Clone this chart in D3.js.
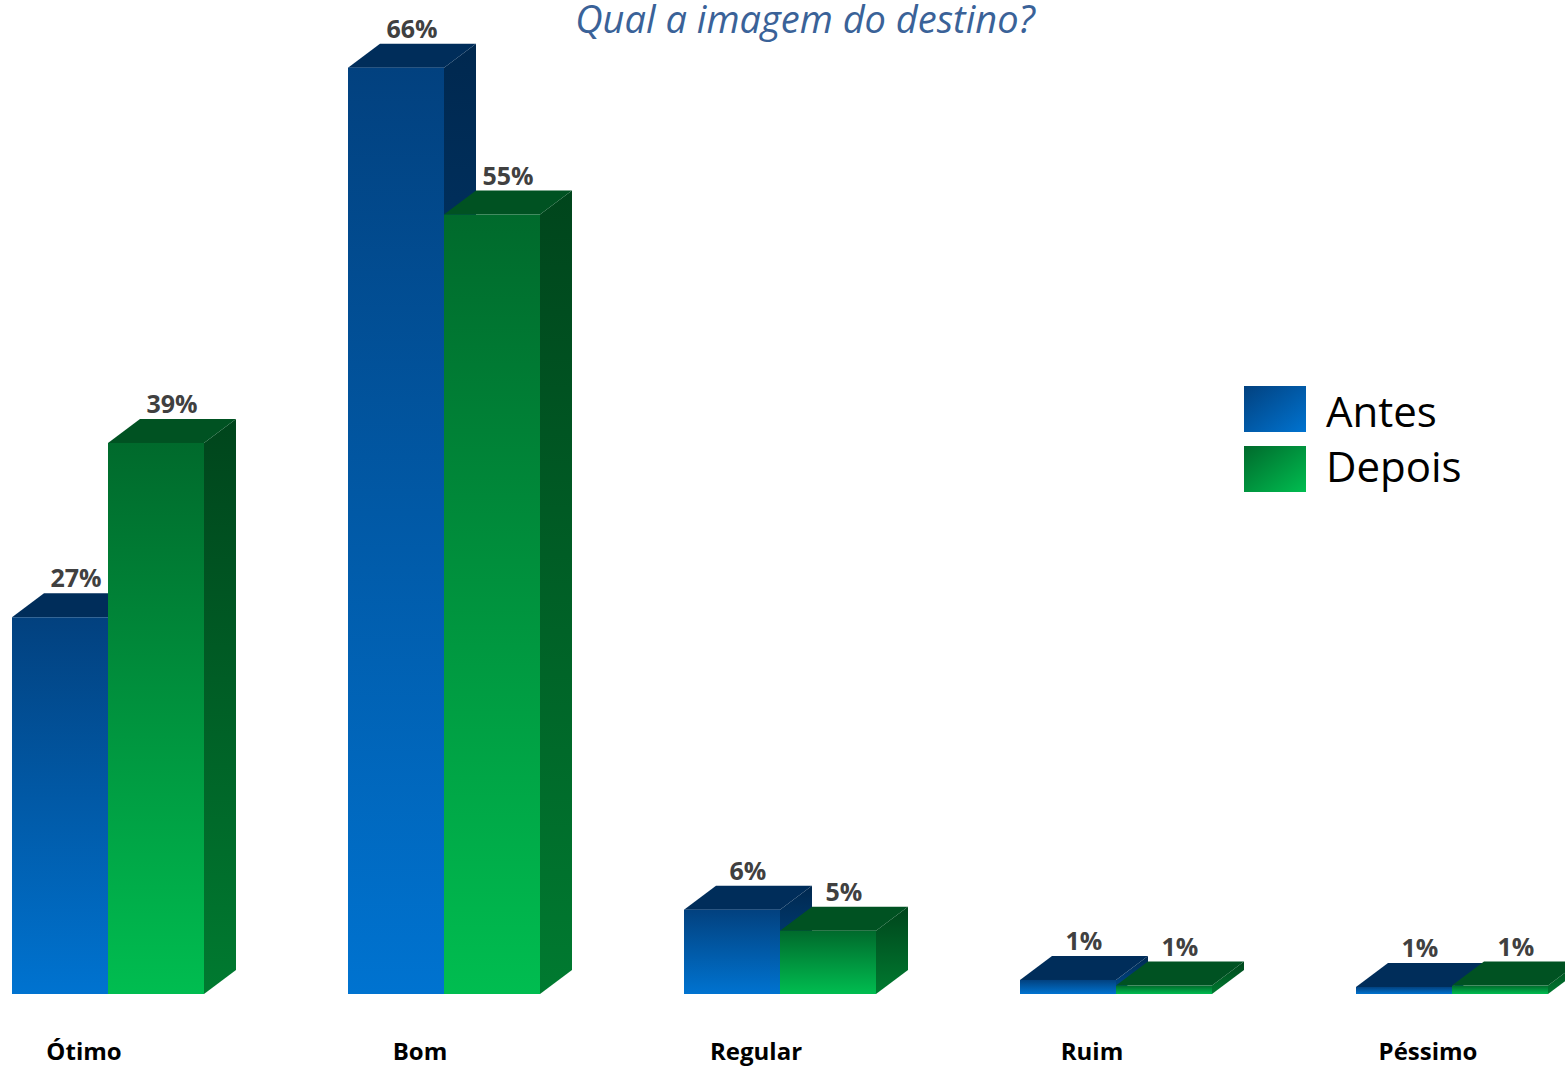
<!DOCTYPE html>
<html>
<head>
<meta charset="utf-8">
<script src="https://cdn.jsdelivr.net/npm/d3@7"></script>
<style>
  html, body { margin: 0; padding: 0; background: #fff; overflow: hidden; }
  svg { display: block; font-family: "Open Sans", sans-serif; }
</style>
</head>
<body>
<div id="chart"></div>
<script>
// chart data
const categories = ["Ótimo", "Bom", "Regular", "Ruim", "Péssimo"];
const seriesNames = ["Antes", "Depois"];
const antes = [26.8, 65.9, 6.0, 1.0, 0.5];
const depois = [39.2, 55.45, 4.5, 0.6, 0.6];
const title = "Qual a imagem do destino?";

const width = 1565;
const height = 1066;
const baseY = 994;
const depthX = 32; // 3d depth
const depthY = 24;

const palette = {
  Antes: { frontTop: "#02417f", frontBot: "#0073d0", top: "#002d5a", sideTop: "#00284f", sideBot: "#004d93" },
  Depois: { frontTop: "#006a2c", frontBot: "#00bd50", top: "#005222", sideTop: "#00451c", sideBot: "#007a30" }
};

const svg = d3.select("#chart").append("svg")
  .attr("width", width)
  .attr("height", height);

const defs = svg.append("defs");
seriesNames.forEach((s) => {
  const c = palette[s];
  const fg = defs.append("linearGradient").attr("id", "front-" + s)
    .attr("x1", 0).attr("y1", 0).attr("x2", 0).attr("y2", 1);
  fg.append("stop").attr("offset", "0%").attr("stop-color", c.frontTop);
  fg.append("stop").attr("offset", "100%").attr("stop-color", c.frontBot);

  const sg = defs.append("linearGradient").attr("id", "side-" + s)
    .attr("x1", 0).attr("y1", 0).attr("x2", 0).attr("y2", 1);
  sg.append("stop").attr("offset", "0%").attr("stop-color", c.sideTop);
  sg.append("stop").attr("offset", "100%").attr("stop-color", c.sideBot);

  const lg = defs.append("linearGradient").attr("id", "legend-" + s)
    .attr("x1", 0).attr("y1", 0).attr("x2", 1).attr("y2", 1);
  lg.append("stop").attr("offset", "0%").attr("stop-color", c.frontTop);
  lg.append("stop").attr("offset", "100%").attr("stop-color", c.frontBot);
});

// scales
const x = d3.scaleBand()
  .domain(categories)
  .range([12, 1548])
  .paddingInner(144 / 336)
  .paddingOuter(0);

const xSub = d3.scaleBand()
  .domain(seriesNames)
  .range([0, x.bandwidth()]);

const y = d3.scaleLinear()
  .domain([0, 70])
  .range([baseY, 10]);

const rows = categories.map((cat, i) => ({
  cat,
  values: [
    { series: "Antes", value: antes[i] },
    { series: "Depois", value: depois[i] }
  ]
}));

const bw = xSub.bandwidth();

// bars
const groups = svg.append("g").selectAll("g.cat")
  .data(rows)
  .join("g")
  .attr("class", "cat")
  .attr("transform", (d) => `translate(${x(d.cat)},0)`);

const bars = groups.selectAll("g.bar")
  .data((d) => d.values)
  .join("g")
  .attr("class", "bar");

// side face
bars.append("path")
  .attr("fill", (d) => `url(#side-${d.series})`)
  .attr("d", (d) => {
    const x1 = xSub(d.series) + bw;
    const yt = y(d.value);
    return `M${x1},${yt}L${x1 + depthX},${yt - depthY}L${x1 + depthX},${baseY - depthY}L${x1},${baseY}Z`;
  });

// top face
bars.append("path")
  .attr("fill", (d) => palette[d.series].top)
  .attr("d", (d) => {
    const x0 = xSub(d.series);
    const yt = y(d.value);
    return `M${x0},${yt}L${x0 + depthX},${yt - depthY}L${x0 + bw + depthX},${yt - depthY}L${x0 + bw},${yt}Z`;
  });

// front face
bars.append("rect")
  .attr("x", (d) => xSub(d.series))
  .attr("y", (d) => y(d.value))
  .attr("width", bw)
  .attr("height", (d) => baseY - y(d.value))
  .attr("fill", (d) => `url(#front-${d.series})`);

// value labels
groups.selectAll("text.val")
  .data((d) => d.values)
  .join("text")
  .attr("class", "val")
  .attr("x", (d) => xSub(d.series) + bw / 2 + depthX / 2)
  .attr("y", (d) => y(d.value) - depthY - 6)
  .attr("text-anchor", "middle")
  .attr("font-size", 25)
  .attr("font-weight", "bold")
  .attr("fill", "#404040")
  .text((d) => Math.round(d.value) + "%");

// category labels
svg.append("g").selectAll("text.cat")
  .data(categories)
  .join("text")
  .attr("x", (d) => x(d) + x.bandwidth() / 2 - 24)
  .attr("y", 1060)
  .attr("text-anchor", "middle")
  .attr("font-size", 24)
  .attr("font-weight", "bold")
  .attr("fill", "#000")
  .text((d) => d);

// title (sits right at the top edge, like the original)
svg.append("text")
  .attr("x", 805)
  .attr("y", 33)
  .attr("text-anchor", "middle")
  .attr("font-size", 38)
  .attr("font-style", "italic")
  .attr("fill", "#3a6298")
  .text(title);

// legend
const legend = svg.append("g").attr("transform", "translate(1244,386)");
const items = legend.selectAll("g")
  .data(seriesNames)
  .join("g");
items.append("rect")
  .attr("y", (d, i) => i * 60)
  .attr("width", 62)
  .attr("height", 46)
  .attr("fill", (d) => `url(#legend-${d})`);
items.append("text")
  .attr("x", 82)
  .attr("y", (d, i) => 41 + i * 55)
  .attr("font-size", 42)
  .attr("fill", "#000")
  .text((d) => d);
</script>
</body>
</html>
